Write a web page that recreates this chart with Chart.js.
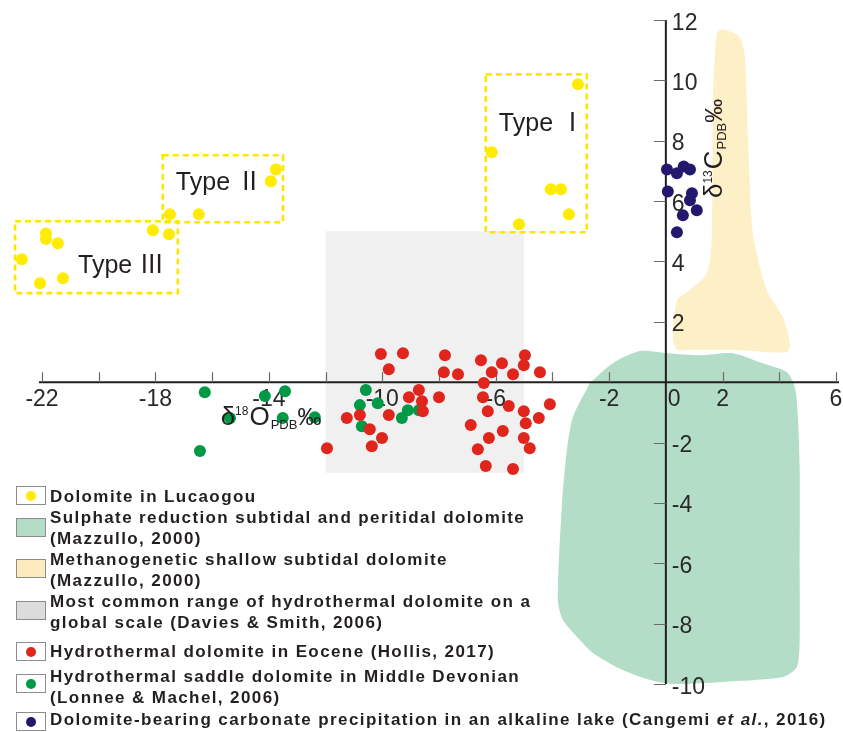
<!DOCTYPE html>
<html>
<head>
<meta charset="utf-8">
<script src="https://cdn.jsdelivr.net/npm/chart.js@4/dist/chart.umd.min.js"></script>
<style>
  html, body { margin: 0; padding: 0; background: #fff; }
  #wrap { position: relative; width: 843px; height: 732px; overflow: hidden; }
  #c { position: absolute; left: 0; top: 0; }
  #legend { position: absolute; left: 0; top: 0; width: 843px; height: 732px; pointer-events: none;
            font: bold 17px "Liberation Sans", Arial, sans-serif; letter-spacing: 1.4px; color: #231f20; }
  .txt { position: absolute; left: 50px; line-height: 21px; white-space: nowrap; }
  .key { position: absolute; left: 16px; width: 30px; height: 19px; border: 1px solid #8c8c8c;
         background: #fff; box-sizing: border-box; }
  .key .dot { position: absolute; left: 50%; top: 50%; width: 10px; height: 10px; margin: -5px 0 0 -5px; border-radius: 50%; }
</style>
</head>
<body>
<div id="wrap">
  <canvas id="c" width="843" height="732"></canvas>
  <div id="legend"></div>
</div>
<script>
// ---- axis ticks ----
const xTickValues = [-22, -20, -18, -16, -14, -12, -10, -8, -6, -4, -2, 0, 2, 4, 6];
const xTickLabels = ['-22', '', '-18', '', '-14', '', '-10', '', '-6', '', '-2', '0', '2', '', '6'];
const yTickValues = [12, 10, 8, 6, 4, 2, 0, -2, -4, -6, -8, -10];
const yTickLabels = ['12', '10', '8', '6', '4', '2', '', '-2', '-4', '-6', '-8', '-10'];

// ---- samples: δ18O (x) and δ13C (y), ‰ PDB ----
const lucaogouO = [-3.10, -6.14, -4.06, -3.70, -3.42, -5.18, -13.75, -13.93, -17.49, -16.47, -18.09, -17.52,
                   -21.86, -21.86, -21.44, -22.71, -22.07, -21.26];
const lucaogouC = [9.87, 7.62, 6.39, 6.39, 5.56, 5.23, 7.05, 6.66, 5.56, 5.56, 5.03, 4.90,
                   4.93, 4.74, 4.60, 4.07, 3.28, 3.44];

const hollisO = [-10.05, -9.27, -9.77, -7.79, -7.83, -8.71, -9.06, -8.60, -8.00, -8.57, -11.25, -10.79, -9.77,
                 -10.44, -10.01, -10.37, -11.95, -7.33, -6.52, -5.78, -6.14, -5.39, -4.97, -5.01, -4.44, -6.42,
                 -6.45, -6.28, -5.54, -5.01, -4.09, -4.48, -4.94, -6.88, -5.75, -6.24, -5.01, -6.63, -4.80,
                 -6.35, -5.39];
const hollisC = [0.93, 0.96, 0.43, 0.89, 0.33, -0.26, -0.50, -0.63, -0.50, -0.96, -1.19, -1.09, -1.09,
                 -1.56, -1.85, -2.12, -2.19, 0.26, 0.73, 0.63, 0.33, 0.26, 0.89, 0.56, 0.33, -0.03,
                 -0.50, -0.96, -0.79, -0.96, -0.73, -1.19, -1.36, -1.42, -1.62, -1.85, -1.85, -2.22, -2.19,
                 -2.78, -2.88];

const lonneeO = [-16.26, -14.14, -13.43, -15.37, -13.51, -12.38, -16.43, -10.58, -10.16, -10.79, -10.72, -9.31, -9.10, -8.71];
const lonneeC = [-0.33, -0.46, -0.30, -1.19, -1.19, -1.16, -2.28, -0.26, -0.70, -0.76, -1.46, -1.19, -0.93, -0.93];

const cangemiO = [0.04, 0.39, 0.63, 0.85, 0.07, 0.92, 0.85, 0.60, 1.09, 0.39];
const cangemiC = [7.05, 6.92, 7.15, 7.05, 6.32, 6.26, 6.03, 5.53, 5.70, 4.97];

// ---- reference fields (outline vertices, δ18O / δ13C) ----
const sulphateO = [-2.68, -1.87, -0.92, 0.04, 1.20, 2.36, 3.31, 4.27, 4.55, 4.65, 4.72, 4.72, 4.72, 4.62, 4.13,
                   2.01, 0.25, -0.56, -1.52, -2.57, -3.03, -3.63, -3.81, -3.67, -3.49, -3.28, -2.68];
const sulphateC = [-0.03, 0.63, 1.03, 0.96, 0.89, 0.96, 0.66, 0.33, -0.17, -1.03, -2.91, -6.32, -8.54, -9.44, -9.77,
                   -9.93, -10.0, -9.87, -9.54, -8.97, -8.54, -7.88, -7.22, -4.14, -2.25, -1.16, -0.03];

const methaneO = [0.39, 0.25, 0.39, 0.85, 1.45, 1.62, 1.66, 1.80, 2.01, 2.61, 2.79, 2.89, 3.07, 3.56, 4.13,
                  4.37, 4.27, 2.61, 0.39];
const methaneC = [1.06, 1.39, 2.72, 3.05, 3.61, 4.93, 9.34, 11.56, 11.69, 11.42, 10.76, 8.25, 4.93, 3.05, 2.15,
                  1.29, 0.99, 1.06, 1.06];

const hydrothermalO = [-12, -5, -5, -12, -12];
const hydrothermalC = [5.0, 5.0, -3.0, -3.0, 5.0];

// ---- Type groupings ----
const typeNames = ['Type Ⅰ', 'Type Ⅱ', 'Type Ⅲ'];
const typeBoxO = [[-6.35, -2.79], [-17.74, -13.50], [-22.95, -17.21]];
const typeBoxC = [[10.20, 4.97], [7.52, 5.30], [5.33, 2.95]];
const typeLabelO = [-5.89, -17.28, -20.73];
const typeLabelC = [8.31, 6.36, 3.61];

// ---- legend ----
const legendLabels = [
  ['Dolomite in Lucaogou'],
  ['Sulphate reduction subtidal and peritidal dolomite', '(Mazzullo, 2000)'],
  ['Methanogenetic shallow subtidal dolomite', '(Mazzullo, 2000)'],
  ['Most common range of hydrothermal dolomite on a', 'global scale (Davies & Smith, 2006)'],
  ['Hydrothermal dolomite in Eocene (Hollis, 2017)'],
  ['Hydrothermal saddle dolomite in Middle Devonian', '(Lonnee & Machel, 2006)'],
  ['Dolomite-bearing carbonate precipitation in an alkaline lake (Cangemi et al., 2016)']
];

const COLORS = {
  lucaogou: '#ffec00', hollis: '#e0251c', lonnee: '#009a46', cangemi: '#22196f',
  sulphate: '#b4ddc8', methane: '#fdf0c6', hydro: '#f0f0f0', hydroKey: '#dcdcdc', methaneKey: '#fdebc0',
  ink: '#231f20', box: '#ffe600'
};
const legendKeys = [
  {kind: 'dot', color: COLORS.lucaogou},
  {kind: 'area', color: COLORS.sulphate},
  {kind: 'area', color: COLORS.methaneKey},
  {kind: 'area', color: COLORS.hydroKey},
  {kind: 'dot', color: COLORS.hollis},
  {kind: 'dot', color: COLORS.lonnee},
  {kind: 'dot', color: COLORS.cangemi}
];

const pairs = (xs, ys) => xs.map((v, i) => ({x: v, y: ys[i]}));

function pointSet(label, xs, ys, color) {
  return {
    label, data: pairs(xs, ys), backgroundColor: color, borderWidth: 0,
    pointRadius: 6, pointHoverRadius: 6, clip: false, order: 1
  };
}
function fieldSet(label, xs, ys, color, tension) {
  return {
    label, data: pairs(xs, ys), showLine: true, fill: 'shape', backgroundColor: color,
    borderColor: 'rgba(0,0,0,0)', borderWidth: 0, pointRadius: 0, tension, clip: false, order: 5
  };
}

// composite isotope label: δ, superscript mass number, element, PDB subscript, per-mil
function drawIsoLabel(ctx, mass, element) {
  const F = '"Liberation Sans", Arial, sans-serif';
  const parts = [
    {t: 'δ', size: 26, dy: 0},
    {t: mass, size: 12, dy: -10},
    {t: element, size: 26, dy: 0, pad: 1},
    {t: 'PDB', size: 13, dy: 4, pad: 1},
    {t: '‰', size: 24, dy: 0}
  ];
  let cx = 0;
  parts.forEach(p => {
    ctx.font = p.size + 'px ' + F;
    cx += p.pad || 0;
    ctx.fillText(p.t, cx, p.dy);
    cx += ctx.measureText(p.t).width;
  });
}

const framePlugin = {
  id: 'isotopeFrame',
  beforeDatasetsDraw(chart) {
    const {ctx, scales: {x, y}} = chart;
    ctx.save();

    // dashed Type boxes
    ctx.strokeStyle = COLORS.box;
    ctx.lineWidth = 2.6;
    ctx.setLineDash([6, 4]);
    typeBoxO.forEach((o, i) => {
      const c = typeBoxC[i];
      const x0 = x.getPixelForValue(o[0]), x1 = x.getPixelForValue(o[1]);
      const y0 = y.getPixelForValue(c[0]), y1 = y.getPixelForValue(c[1]);
      ctx.strokeRect(x0, y0, x1 - x0, y1 - y0);
    });
    ctx.setLineDash([]);

    // Type labels
    ctx.fillStyle = COLORS.ink;
    ctx.font = '25px "Liberation Sans", "Noto Sans CJK SC", sans-serif';
    ctx.textAlign = 'left';
    ctx.textBaseline = 'alphabetic';
    typeNames.forEach((t, i) => {
      ctx.fillText(t, x.getPixelForValue(typeLabelO[i]), y.getPixelForValue(typeLabelC[i]));
    });

    // axes crossing at the origin
    const ox = x.getPixelForValue(0), oy = y.getPixelForValue(0);
    const xStart = x.getPixelForValue(xTickValues[0]);
    ctx.strokeStyle = COLORS.ink;
    ctx.lineWidth = 2;
    ctx.beginPath();
    ctx.moveTo(xStart - 3, oy); ctx.lineTo(x.right + 3, oy);
    ctx.moveTo(ox, y.top); ctx.lineTo(ox, y.bottom);
    ctx.stroke();

    // tick marks: up from the x axis, left from the y axis
    ctx.strokeStyle = '#6a6a6a';
    ctx.lineWidth = 1.2;
    ctx.beginPath();
    xTickValues.forEach(v => {
      if (v === 0) return;
      const px = Math.round(x.getPixelForValue(v)) + 0.5;
      ctx.moveTo(px, oy); ctx.lineTo(px, oy - 10);
    });
    yTickValues.forEach(v => {
      if (v === 0) return;
      const py = Math.round(y.getPixelForValue(v)) + 0.5;
      ctx.moveTo(ox - 12, py); ctx.lineTo(ox, py);
    });
    ctx.stroke();

    // tick labels
    ctx.fillStyle = '#2b2829';
    ctx.font = '23px "Liberation Sans", Arial, sans-serif';
    ctx.textBaseline = 'alphabetic';
    xTickValues.forEach((v, i) => {
      const lab = xTickLabels[i];
      if (!lab) return;
      const px = x.getPixelForValue(v);
      if (v === 0) { ctx.textAlign = 'left'; ctx.fillText(lab, px + 2, oy + 24); }
      else { ctx.textAlign = 'center'; ctx.fillText(lab, px, oy + 24); }
    });
    ctx.textAlign = 'left';
    yTickValues.forEach((v, i) => {
      const lab = yTickLabels[i];
      if (!lab) return;
      ctx.fillText(lab, ox + 6, y.getPixelForValue(v) + 9.5);
    });
    ctx.restore();
  },
  afterDatasetsDraw(chart) {
    const {ctx, scales: {x, y}} = chart;
    ctx.save();
    ctx.fillStyle = COLORS.ink;
    ctx.textAlign = 'left';
    ctx.textBaseline = 'alphabetic';
    // δ18O title below the x axis
    ctx.translate(x.getPixelForValue(-15.7), y.getPixelForValue(0) + 43);
    drawIsoLabel(ctx, '18', 'O');
    ctx.restore();

    ctx.save();
    ctx.fillStyle = COLORS.ink;
    ctx.textAlign = 'left';
    ctx.textBaseline = 'alphabetic';
    // δ13C title along the y axis, reading upwards
    ctx.translate(x.getPixelForValue(0) + 56, y.getPixelForValue(6.1));
    ctx.rotate(-Math.PI / 2);
    drawIsoLabel(ctx, '13', 'C');
    ctx.restore();
  }
};

new Chart(document.getElementById('c'), {
  type: 'scatter',
  data: {
    datasets: [
      pointSet('Dolomite in Lucaogou', lucaogouO, lucaogouC, COLORS.lucaogou),
      pointSet('Hydrothermal dolomite in Eocene', hollisO, hollisC, COLORS.hollis),
      pointSet('Hydrothermal saddle dolomite in Middle Devonian', lonneeO, lonneeC, COLORS.lonnee),
      pointSet('Dolomite-bearing carbonate precipitation', cangemiO, cangemiC, COLORS.cangemi),
      fieldSet('Sulphate reduction subtidal and peritidal dolomite', sulphateO, sulphateC, COLORS.sulphate, 0.25),
      fieldSet('Methanogenetic shallow subtidal dolomite', methaneO, methaneC, COLORS.methane, 0.25),
      fieldSet('Hydrothermal dolomite range', hydrothermalO, hydrothermalC, COLORS.hydro, 0)
    ]
  },
  options: {
    responsive: false,
    animation: false,
    events: [],
    // the δ18O scale starts one unit below the first labelled tick so edge points stay visible
    layout: {padding: {left: 13.64, right: 7, top: 20, bottom: 48}},
    scales: {
      x: {type: 'linear', min: -23, max: 6, display: false},
      y: {type: 'linear', min: -10, max: 12, display: false}
    },
    plugins: {
      legend: {display: false},
      tooltip: {enabled: false},
      filler: {drawTime: 'beforeDatasetsDraw'}
    }
  },
  plugins: [framePlugin]
});

// HTML legend in the lower-left corner
(function buildLegend() {
  const host = document.getElementById('legend');
  const textTops = [486, 507, 549, 591, 641, 666, 709];
  const keyTops = [486, 518, 559, 601, 642, 674, 712];
  legendLabels.forEach((lines, i) => {
    const key = document.createElement('div');
    key.className = 'key';
    key.style.top = keyTops[i] + 'px';
    const spec = legendKeys[i];
    if (spec.kind === 'dot') {
      const d = document.createElement('div');
      d.className = 'dot';
      d.style.background = spec.color;
      key.appendChild(d);
    } else {
      key.style.background = spec.color;
    }
    host.appendChild(key);

    const t = document.createElement('div');
    t.className = 'txt';
    t.style.top = textTops[i] + 'px';
    lines.forEach((ln, j) => {
      if (j) t.appendChild(document.createElement('br'));
      const bits = ln.split('et al.');
      bits.forEach((b, k) => {
        t.appendChild(document.createTextNode(b));
        if (k < bits.length - 1) {
          const it = document.createElement('i');
          it.textContent = 'et al.';
          t.appendChild(it);
        }
      });
    });
    host.appendChild(t);
  });
})();
</script>
</body>
</html>
